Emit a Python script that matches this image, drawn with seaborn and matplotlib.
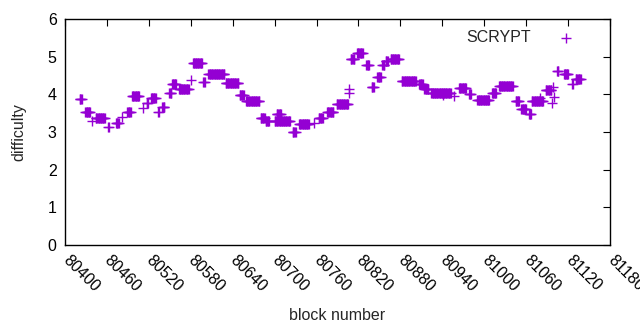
import numpy as np
import pandas as pd
import matplotlib
matplotlib.use("Agg")
import matplotlib.pyplot as plt
import seaborn as sns

# difficulty stays constant over runs of blocks: first block, last block, value
run_start = [80421, 80429, 80438, 80444, 80462, 80473, 80481, 80489, 80496, 80512,
             80517, 80523, 80533, 80539, 80549, 80553, 80563, 80580, 80583, 80598,
             80605, 80630, 80650, 80659, 80680, 80687, 80700, 80703, 80726, 80735,
             80756, 80763, 80775, 80789, 80806, 80807, 80809, 80818, 80831, 80839,
             80847, 80854, 80859, 80866, 80882, 80907, 80914, 80924, 80941, 80957,
             80964, 80978, 80990, 81011, 81021, 81045, 81053, 81064, 81068, 81080,
             81088, 81097, 81098, 81100, 81104, 81114, 81126, 81131]
run_end = [80424, 80436, 80438, 80457, 80463, 80477, 80481, 80494, 80506, 80512,
           80519, 80530, 80534, 80542, 80552, 80559, 80577, 80580, 80596, 80600,
           80628, 80648, 80656, 80678, 80686, 80692, 80722, 80709, 80730, 80749,
           80756, 80769, 80784, 80805, 80806, 80807, 80814, 80826, 80835, 80842,
           80852, 80857, 80862, 80878, 80902, 80912, 80920, 80952, 80941, 80957,
           80974, 80981, 81007, 81017, 81041, 81050, 81060, 81067, 81084, 81080,
           81096, 81097, 81098, 81100, 81106, 81120, 81127, 81138]
run_value = [3.87, 3.52, 3.30, 3.36, 3.12, 3.23, 3.41, 3.52, 3.96, 3.65,
             3.78, 3.91, 3.52, 3.67, 4.04, 4.28, 4.15, 4.39, 4.84, 4.33,
             4.55, 4.31, 3.99, 3.81, 3.38, 3.30, 3.28, 3.49, 3.01, 3.20,
             3.25, 3.36, 3.52, 3.75, 4.15, 4.03, 4.94, 5.10, 4.78, 4.20,
             4.47, 4.79, 4.89, 4.94, 4.36, 4.28, 4.15, 4.04, 3.98, 3.96,
             4.18, 4.02, 3.86, 4.04, 4.23, 3.83, 3.62, 3.49, 3.83, 3.89,
             4.12, 3.78, 4.20, 3.94, 4.63, 4.55, 4.28, 4.41]

x_ticks = list(range(80400, 81181, 60))
y_ticks = [0, 1, 2, 3, 4, 5, 6]

blocks, diffs = [], []
for s, e, v in zip(run_start, run_end, run_value):
    for b in range(s, e + 1):
        blocks.append(b)
        diffs.append(v)
df = pd.DataFrame({"block number": blocks, "difficulty": diffs})

sns.set_style("white")
plt.rcParams["font.family"] = ["Liberation Sans", "DejaVu Sans"]
fs = 11.5

fig, ax = plt.subplots(figsize=(6.4, 3.3), dpi=100)
fig.subplots_adjust(left=65 / 640, right=610 / 640, bottom=85 / 330, top=311 / 330)

sns.scatterplot(data=df, x="block number", y="difficulty", marker="+", s=45,
                color="#9400d3", linewidth=1.0, label="SCRYPT", ax=ax)

ax.set_xlim(80400, 81180)
ax.set_ylim(0, 6)
ax.set_xticks(x_ticks)
ax.set_yticks(y_ticks)
ax.set_xticklabels([str(t) for t in x_ticks], rotation=-45, ha="left", va="center",
                   rotation_mode="anchor", fontsize=fs)
ax.set_yticklabels([str(t) for t in y_ticks], fontsize=fs)
ax.tick_params(direction="in", length=5, width=0.8, top=True, right=True,
               colors="black", pad=6)
ax.tick_params(axis="x", pad=9)
for sp in ax.spines.values():
    sp.set_color("black")
    sp.set_linewidth(1.0)
ax.set_xlabel("block number", fontsize=fs, labelpad=10)
ax.set_ylabel("difficulty", fontsize=fs, labelpad=15)

ax.legend(loc="upper right", frameon=False, markerfirst=False, fontsize=fs,
          handletextpad=1.2, borderaxespad=0.3, bbox_to_anchor=(0.97, 1.0))

fig.savefig("out.png", dpi=100)
